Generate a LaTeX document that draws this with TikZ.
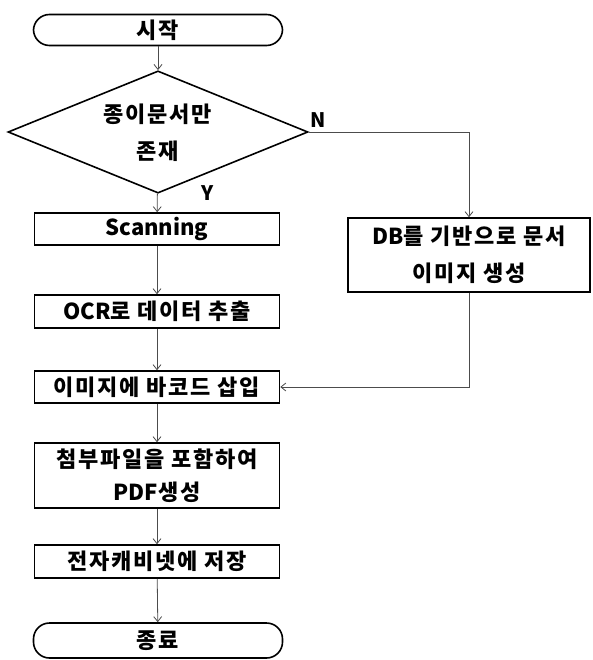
\documentclass[tikz,border=0pt]{standalone}
\usepackage{fontspec}
\setmainfont{Noto Sans CJK KR}[LetterSpace=8]
\newfontfamily\latn{Noto Sans CJK KR}
\usetikzlibrary{shapes.geometric,arrows.meta}
\begin{document}
\begin{tikzpicture}[x=1pt,y=-1pt,
  every node/.style={font=\bfseries\fontsize{22}{26}\selectfont},
  boxnode/.style={draw=black,line width=1.6pt,minimum height=32pt,minimum width=245pt,inner sep=0pt,align=center},
  termnode/.style={boxnode,rounded corners=16pt,minimum width=249pt},
  decnode/.style={draw=black,line width=1.6pt,diamond,minimum width=300pt,minimum height=87pt,inner sep=0pt},
  flow/.style={draw=black!70,line width=0.8pt,-{Straight Barb[length=5pt,width=8pt]}},
  lbl/.style={font=\latn\bfseries\fontsize{20}{24}\selectfont}
]
\useasboundingbox (0,0) rectangle (592,660);
\node[termnode,minimum height=31pt] (start) at (158,30) {시작};
\node[decnode] (dec) at (158,132) {\raisebox{-14pt}{\smash{\fontsize{22}{37}\selectfont\begin{tabular}{@{}c@{}}종이문서만\\존재\end{tabular}}}};
\node[boxnode] (scan) at (157,229) {{\latn Scanning}};
\node[boxnode,minimum height=33pt] (ocr) at (157,311.5) {{\latn OCR}로 데이터 추출};
\node[boxnode] (bar) at (157,387) {이미지에 바코드 삽입};
\node[boxnode,minimum height=65pt,font=\bfseries\fontsize{22}{33}\selectfont] (pdf) at (157,475.5) {첨부파일을 포함하여\\{\latn PDF}생성};
\node[boxnode,minimum height=33pt] (cab) at (157,561.5) {전자캐비넷에 저장};
\node[termnode,minimum height=35pt] (end) at (158,640.5) {종료};
\node[boxnode,minimum width=242pt,minimum height=74pt,font=\bfseries\fontsize{22}{37}\selectfont] (db) at (469,255) {{\latn DB}를 기반으로 문서\\이미지 생성};
\node[lbl] (ylab) at (208,193) {Y};
\node[lbl] (nlab) at (318,120) {N};
\draw[flow] (start) -- (dec);
\draw[flow] (dec) -- (scan);
\draw[flow] (scan) -- (ocr);
\draw[flow] (ocr) -- (bar);
\draw[flow] (bar) -- (pdf);
\draw[flow] (pdf) -- (cab);
\draw[flow] (cab) -- (end);
\draw[flow] (dec.east) -| (db.north);
\draw[flow] (db.south) |- (bar.east);
\end{tikzpicture}
\end{document}
